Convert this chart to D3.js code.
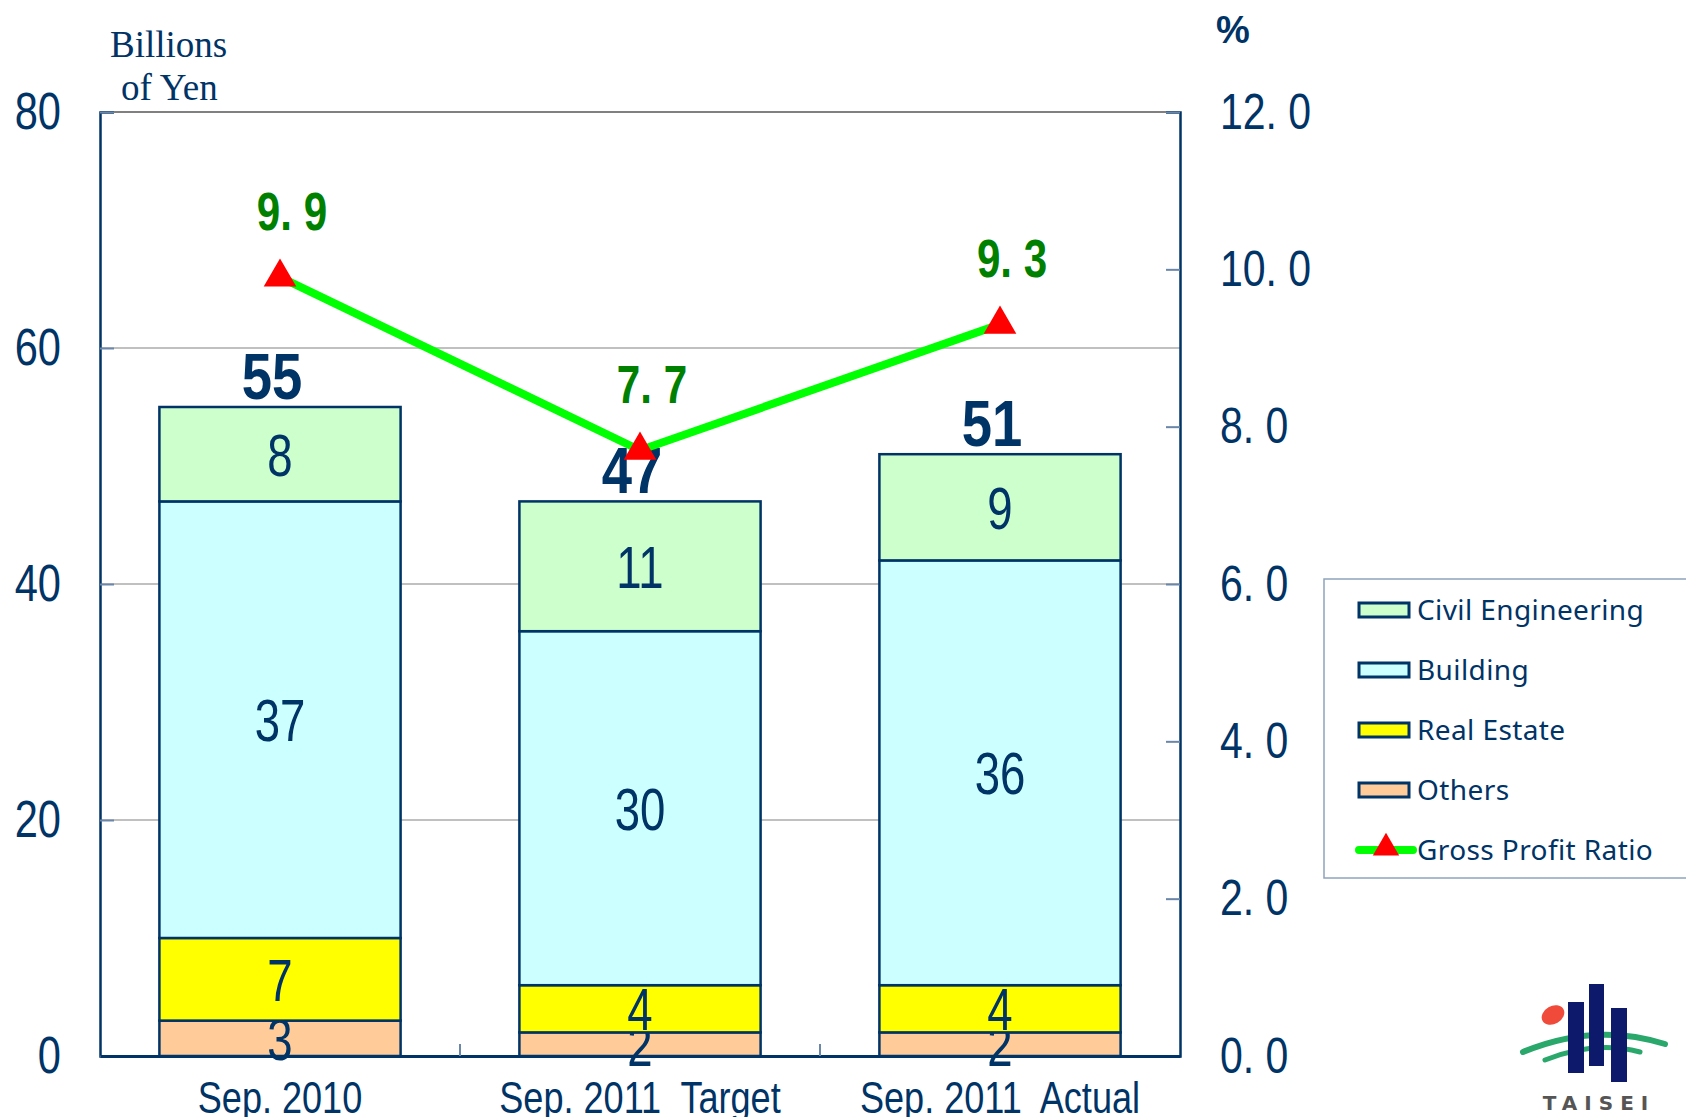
<!DOCTYPE html>
<html>
<head>
<meta charset="utf-8">
<script src="https://cdn.jsdelivr.net/npm/d3@7"></script>
<style>
  body { margin: 0; background: #fff; }
  svg { display: block; }
</style>
</head>
<body>
<div id="chart"></div>
<script>
// Chart values
const categories = ["Sep. 2010", "Sep. 2011  Target", "Sep. 2011  Actual"];
const series = ["Others", "Real Estate", "Building", "Civil Engineering"];
const others = [3, 2, 2];
const realEstate = [7, 4, 4];
const building = [37, 30, 36];
const civilEng = [8, 11, 9];
const totals = [55, 47, 51];
const grossProfitRatio = [9.9, 7.7, 9.3];
const leftTicks = [0, 20, 40, 60, 80];
const rightTicks = [0, 2, 4, 6, 8, 10, 12];
const legendOrder = ["Civil Engineering", "Building", "Real Estate", "Others", "Gross Profit Ratio"];

const colors = {
    "Others": "#ffcc99",
    "Real Estate": "#ffff00",
    "Building": "#ccffff",
    "Civil Engineering": "#ccffcc"
};
const navy = "#003366";
const sans = "'Liberation Sans', Arial, sans-serif";

// squeeze a text horizontally (the original uses a narrow gothic face)
function condense(sel, s) {
    sel.each(function () {
        const t = d3.select(this);
        const x0 = +(t.attr("x") || 0);
        t.attr("x", x0 / s).attr("transform", `scale(${s},1)`);
    });
}

const W = 1686, H = 1117;
const margin = { top: 112, right: 506, bottom: 61, left: 100 };
const width = W - margin.left - margin.right;
const height = H - margin.top - margin.bottom;

const svg = d3.select("#chart")
    .append("svg")
    .attr("width", W)
    .attr("height", H);

const g = svg.append("g")
    .attr("transform", `translate(${margin.left},${margin.top})`);

// Scales
const x = d3.scaleBand()
    .domain(categories)
    .range([0, width])
    .paddingInner(0.33)
    .paddingOuter(0.165);

const y = d3.scaleLinear().domain([0, 80]).range([height, 0]);
const y2 = d3.scaleLinear().domain([0, 12]).range([height, 0]);

// Stack the data
const rows = categories.map((c, i) => ({
    cat: c,
    "Others": others[i],
    "Real Estate": realEstate[i],
    "Building": building[i],
    "Civil Engineering": civilEng[i]
}));
const stacked = d3.stack().keys(series)(rows);

// Grid lines
g.selectAll(".grid")
    .data(leftTicks.filter(d => d > 0 && d < 80))
    .enter()
    .append("line")
    .attr("x1", 0)
    .attr("x2", width)
    .attr("y1", d => y(d))
    .attr("y2", d => y(d))
    .attr("stroke", "#c0c0c0")
    .attr("stroke-width", 2);

// Plot frame (top)
g.append("line")
    .attr("x1", 0).attr("x2", width)
    .attr("y1", 0).attr("y2", 0)
    .attr("stroke", "#808080")
    .attr("stroke-width", 2);

// Bars
const layers = g.selectAll(".layer")
    .data(stacked)
    .enter()
    .append("g")
    .attr("fill", d => colors[d.key]);

layers.selectAll("rect")
    .data(d => d)
    .enter()
    .append("rect")
    .attr("x", d => x(d.data.cat))
    .attr("width", x.bandwidth())
    .attr("y", d => y(d[1]))
    .attr("height", d => y(d[0]) - y(d[1]))
    .attr("stroke", navy)
    .attr("stroke-width", 2.5);

// Segment labels
layers.selectAll("text")
    .data(d => d.map(v => ({ v: v, key: d.key })))
    .enter()
    .append("text")
    .attr("x", d => x(d.v.data.cat) + x.bandwidth() / 2)
    .attr("y", d => (y(d.v[0]) + y(d.v[1])) / 2)
    .attr("dy", "0.36em")
    .attr("text-anchor", "middle")
    .attr("fill", navy)
    .attr("font-family", sans)
    .attr("font-size", 60)
    .text(d => d.v[1] - d.v[0])
    .call(condense, 0.76);

// Left axis
const yAxis = g.append("g")
    .call(d3.axisLeft(y).tickValues(leftTicks).tickSize(-14).tickPadding(39).tickFormat(d3.format("d")));
yAxis.select(".domain").attr("stroke", navy).attr("stroke-width", 2.5);
yAxis.selectAll(".tick line").attr("stroke", "#6a86a8").attr("stroke-width", 2);
yAxis.selectAll(".tick text")
    .attr("fill", navy)
    .attr("font-family", sans)
    .attr("font-size", 52)
    .call(condense, 0.8);

// Right axis
const y2Axis = g.append("g")
    .attr("transform", `translate(${width},0)`)
    .call(d3.axisRight(y2).tickValues(rightTicks).tickSize(-14).tickPadding(40)
        .tickFormat(d => d3.format(".1f")(d).replace(".", ". ")));
y2Axis.select(".domain").attr("stroke", navy).attr("stroke-width", 2.5);
y2Axis.selectAll(".tick line").attr("stroke", "#6a86a8").attr("stroke-width", 2);
y2Axis.selectAll(".tick text")
    .attr("fill", navy)
    .attr("font-family", sans)
    .attr("font-size", 50)
    .attr("xml:space", "preserve")
    .call(condense, 0.82);

// Bottom axis
const xAxis = g.append("g")
    .attr("transform", `translate(0,${height})`)
    .call(d3.axisBottom(x).tickSize(0).tickPadding(41));
xAxis.select(".domain").attr("stroke", navy).attr("stroke-width", 3);
xAxis.selectAll(".tick text")
    .attr("fill", navy)
    .attr("font-family", sans)
    .attr("font-size", 44)
    .attr("dy", "0.36em")
    .attr("xml:space", "preserve")
    .call(condense, 0.82);

// Inner ticks between categories
g.selectAll(".cat-tick")
    .data(categories.slice(1))
    .enter()
    .append("line")
    .attr("x1", d => x(d) - x.step() * x.paddingInner() / 2)
    .attr("x2", d => x(d) - x.step() * x.paddingInner() / 2)
    .attr("y1", height)
    .attr("y2", height - 12)
    .attr("stroke", "#6a86a8")
    .attr("stroke-width", 2);

// Total labels
g.selectAll(".total")
    .data(totals)
    .enter()
    .append("text")
    .attr("x", (d, i) => x(categories[i]) + x.bandwidth() / 2 - 8)
    .attr("y", d => y(d) - 8)
    .attr("text-anchor", "middle")
    .attr("fill", navy)
    .attr("font-family", sans)
    .attr("font-weight", "bold")
    .attr("font-size", 64)
    .text(d => d)
    .call(condense, 0.85);

// Gross profit ratio line
const cx = i => x(categories[i]) + x.bandwidth() / 2;
const line = d3.line()
    .x((d, i) => cx(i))
    .y(d => y2(d));

g.append("path")
    .datum(grossProfitRatio)
    .attr("d", line)
    .attr("fill", "none")
    .attr("stroke", "#00ff00")
    .attr("stroke-width", 8);

const tri = d3.symbol().type(d3.symbolTriangle).size(460);
g.selectAll(".marker")
    .data(grossProfitRatio)
    .enter()
    .append("path")
    .attr("d", tri)
    .attr("transform", (d, i) => `translate(${cx(i)},${y2(d)})`)
    .attr("fill", "#ff0000");

g.selectAll(".gpr-label")
    .data(grossProfitRatio)
    .enter()
    .append("text")
    .attr("x", (d, i) => cx(i) + 12)
    .attr("y", d => y2(d) - 47)
    .attr("text-anchor", "middle")
    .attr("fill", "#008000")
    .attr("font-family", sans)
    .attr("font-weight", "bold")
    .attr("font-size", 54)
    .attr("xml:space", "preserve")
    .text(d => d3.format(".1f")(d).replace(".", ". "))
    .call(condense, 0.78);

// Axis titles
svg.append("text")
    .attr("x", 110).attr("y", 57)
    .attr("fill", navy)
    .attr("font-family", "'Liberation Serif', serif")
    .attr("font-size", 37)
    .text("Billions");
svg.append("text")
    .attr("x", 121).attr("y", 100)
    .attr("fill", navy)
    .attr("font-family", "'Liberation Serif', serif")
    .attr("font-size", 37)
    .text("of Yen");
svg.append("text")
    .attr("x", 1216).attr("y", 43)
    .attr("fill", navy)
    .attr("font-family", sans)
    .attr("font-weight", "bold")
    .attr("font-size", 38)
    .text("%");

// Legend
const legend = svg.append("g").attr("transform", "translate(1324,579)");
legend.append("rect")
    .attr("width", 380).attr("height", 299)
    .attr("fill", "#fff")
    .attr("stroke", "#8fa3bb")
    .attr("stroke-width", 1.5);

const items = legend.selectAll(".item")
    .data(legendOrder)
    .enter()
    .append("g")
    .attr("transform", (d, i) => `translate(0,${31 + i * 60})`);

items.filter(d => colors[d])
    .append("rect")
    .attr("x", 35).attr("y", -7)
    .attr("width", 50).attr("height", 14)
    .attr("fill", d => colors[d])
    .attr("stroke", navy)
    .attr("stroke-width", 3);

const lineItem = items.filter(d => !colors[d]);
lineItem.append("line")
    .attr("x1", 35).attr("x2", 89)
    .attr("y1", 0).attr("y2", 0)
    .attr("stroke", "#00ff00")
    .attr("stroke-width", 8)
    .attr("stroke-linecap", "round");
lineItem.append("path")
    .attr("d", d3.symbol().type(d3.symbolTriangle).size(300))
    .attr("transform", "translate(62,-2)")
    .attr("fill", "#ff0000");

items.append("text")
    .attr("x", 93)
    .attr("dy", "0.36em")
    .attr("fill", navy)
    .attr("font-family", "'Noto Sans', sans-serif")
    .attr("font-size", 28)
    .attr("letter-spacing", 0.4)
    .text(d => d);

// Logo
const logo = svg.append("g");
logo.append("ellipse")
    .attr("cx", 1553).attr("cy", 1015)
    .attr("rx", 12).attr("ry", 9)
    .attr("transform", "rotate(-30,1553,1015)")
    .attr("fill", "#f04a3a");
logo.append("path")
    .attr("d", "M1523,1052 Q1595,1022 1665,1044")
    .attr("fill", "none")
    .attr("stroke", "#2aa86c")
    .attr("stroke-width", 6)
    .attr("stroke-linecap", "round");
logo.append("path")
    .attr("d", "M1545,1060 Q1595,1040 1640,1052")
    .attr("fill", "none")
    .attr("stroke", "#2aa86c")
    .attr("stroke-width", 5)
    .attr("stroke-linecap", "round");
[[1568, 1002, 16, 71], [1589, 984, 15, 82], [1611, 1008, 16, 74]].forEach(b => {
    logo.append("rect")
        .attr("x", b[0]).attr("y", b[1])
        .attr("width", b[2]).attr("height", b[3])
        .attr("fill", "#0d1a6b");
});
logo.append("text")
    .attr("x", 1599).attr("y", 1110)
    .attr("text-anchor", "middle")
    .attr("fill", "#555")
    .attr("font-family", "'DejaVu Sans', sans-serif")
    .attr("font-weight", "bold")
    .attr("font-size", 20)
    .attr("letter-spacing", 7)
    .text("TAISEI");
</script>
</body>
</html>
